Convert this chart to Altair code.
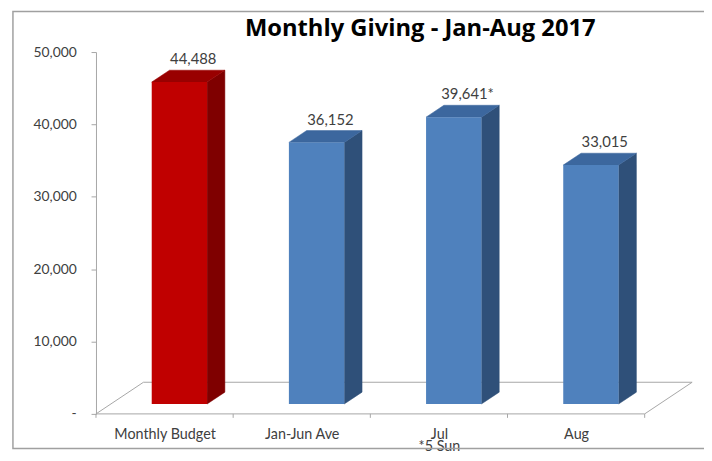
import json
import altair as alt
import pandas as pd

# ---------------- data ----------------
title_text = "Monthly Giving - Jan-Aug 2017"
categories = ["Monthly Budget", "Jan-Jun Ave", "Jul", "Aug"]
values = [44488, 36152, 39641, 33015]
value_labels = ["44,488", "36,152", "39,641*", "33,015"]
axis_notes = ["", "", "*5 Sun", ""]
front_colors = ["#C00000", "#4F81BD", "#4F81BD", "#4F81BD"]
side_colors = ["#7F0000", "#2F5079", "#2F5079", "#2F5079"]
top_colors = ["#990000", "#3C679E", "#3C679E", "#3C679E"]
y_ticks = [0, 10000, 20000, 30000, 40000, 50000]

# ---------------- layout / 3-D geometry (pixels) ----------------
W, H = 555, 366
PAD_L, PAD_T, PAD_R, PAD_B = 89, 42, 60, 37
X_MIN, X_MAX = -0.5, len(categories) - 0.5
Y_MAX = 50000
ux = W / (X_MAX - X_MIN)
uy = H / Y_MAX

BAR_HALF = 28
FRONT_DX, FRONT_DY = 15, 10
SIDE_DX, SIDE_DY = 18, 12
FLOOR_DX, FLOOR_DY = 48, 32

fdx, fdy = FRONT_DX / ux, FRONT_DY / uy
hw = BAR_HALF / ux
sdx, sdy = SIDE_DX / ux, SIDE_DY / uy
fldx, fldy = FLOOR_DX / ux, FLOOR_DY / uy

front_rows, face_rows, label_rows = [], [], []
for i, (c, v, lab) in enumerate(zip(categories, values, value_labels)):
    L, R = i + fdx - hw, i + fdx + hw
    base, top = fdy, v + fdy
    front_rows.append(dict(cat=c, x=L, x2=R, y=base, y2=top))
    side = [(R, base), (R + sdx, base + sdy), (R + sdx, top + sdy), (R, top), (R, base)]
    for k, (px, py) in enumerate(side):
        face_rows.append(dict(face=c + "|side", cat=c, o=k, x=px, y=py))
    topf = [(L, top), (L + sdx, top + sdy), (R + sdx, top + sdy), (R, top), (L, top)]
    for k, (px, py) in enumerate(topf):
        face_rows.append(dict(face=c + "|top", cat=c, o=k, x=px, y=py))
    label_rows.append(dict(cat=c, x=i + fdx + sdx / 2, y=top + sdy, label=lab))

front_df = pd.DataFrame(front_rows)
face_df = pd.DataFrame(face_rows)
label_df = pd.DataFrame(label_rows)

face_domain = [c + "|side" for c in categories] + [c + "|top" for c in categories]
face_range = side_colors + top_colors

floor_df = pd.DataFrame([
    dict(o=0, x=X_MIN, y=0),
    dict(o=1, x=X_MAX, y=0),
    dict(o=2, x=X_MAX + fldx, y=fldy),
    dict(o=3, x=X_MIN + fldx, y=fldy),
    dict(o=4, x=X_MIN, y=0),
])
tick_df = pd.DataFrame(dict(x=[X_MIN + k for k in range(len(categories) + 1)],
                            y=[0] * (len(categories) + 1)))

xscale = alt.Scale(domain=[X_MIN, X_MAX], nice=False, zero=False)
yscale = alt.Scale(domain=[0, Y_MAX], nice=False)

x_label_list = [c if not n else [c, n] for c, n in zip(categories, axis_notes)]
x_axis = alt.Axis(values=list(range(len(categories))),
                  labelExpr=json.dumps(x_label_list) + "[datum.value]",
                  ticks=False, domain=False, grid=False, title=None,
                  labelFont="Lato", labelFontSize=14.5, labelColor="#404040",
                  labelPadding=14, labelLineHeight=12, labelOverlap=False,
                  labelFlush=False)
nb = "\u00a0"
y_axis = alt.Axis(values=y_ticks,
                  labelExpr="datum.value == 0 ? '-" + nb * 5 + "' : format(datum.value, ',')",
                  grid=False, title=None, domainColor="#A6A6A6", tickColor="#A6A6A6",
                  tickSize=5, labelPadding=15, labelFont="Lato", labelFontSize=14,
                  labelColor="#404040")

frame = alt.Chart(pd.DataFrame({"k": [0]})).mark_rect(
    fill="white", fillOpacity=0, stroke="#A0A0A0", strokeWidth=1.5
).encode(x=alt.value(-84), x2=alt.value(640), y=alt.value(-41), y2=alt.value(401))

title = alt.Chart(pd.DataFrame({"t": [title_text]})).mark_text(
    font="Open Sans", fontSize=24, fontWeight="bold", color="#000000",
    align="center", baseline="alphabetic"
).encode(x=alt.value(328), y=alt.value(-16), text="t:N")

floor = alt.Chart(floor_df).mark_line(color="#A6A6A6", strokeWidth=1).encode(
    x=alt.X("x:Q", scale=xscale, axis=x_axis),
    y=alt.Y("y:Q", scale=yscale, axis=y_axis),
    order="o:Q",
)

ticks = alt.Chart(tick_df).mark_rule(color="#A6A6A6", y2Offset=4).encode(
    x=alt.X("x:Q", scale=xscale), y=alt.Y("y:Q", scale=yscale), y2="y:Q"
)

faces = alt.Chart(face_df).mark_line(filled=True, strokeWidth=0.5, interpolate="linear").encode(
    x=alt.X("x:Q", scale=xscale),
    y=alt.Y("y:Q", scale=yscale),
    order="o:Q",
    detail="face:N",
    color=alt.Color("face:N", scale=alt.Scale(domain=face_domain, range=face_range), legend=None),
    stroke=alt.Stroke("face:N", scale=alt.Scale(domain=face_domain, range=face_range), legend=None),
)

front = alt.Chart(front_df).mark_rect().encode(
    x=alt.X("x:Q", scale=xscale), x2="x2:Q",
    y=alt.Y("y:Q", scale=yscale), y2="y2:Q",
    color=alt.Color("cat:N", scale=alt.Scale(domain=categories, range=front_colors), legend=None),
)

labels = alt.Chart(label_df).mark_text(
    font="Lato", fontSize=15, color="#404040", baseline="alphabetic", dy=-6, dx=5
).encode(
    x=alt.X("x:Q", scale=xscale), y=alt.Y("y:Q", scale=yscale), text="label:N"
)

chart = alt.layer(frame, title, floor, ticks, faces, front, labels).resolve_scale(
    color="independent", stroke="independent"
).properties(
    width=W, height=H,
    autosize=alt.AutoSizeParams(type="none"),
    padding={"left": PAD_L, "top": PAD_T, "right": PAD_R, "bottom": PAD_B},
).configure_view(stroke=None)

chart.save("out.html", embed_options={"renderer": "svg", "actions": False})
